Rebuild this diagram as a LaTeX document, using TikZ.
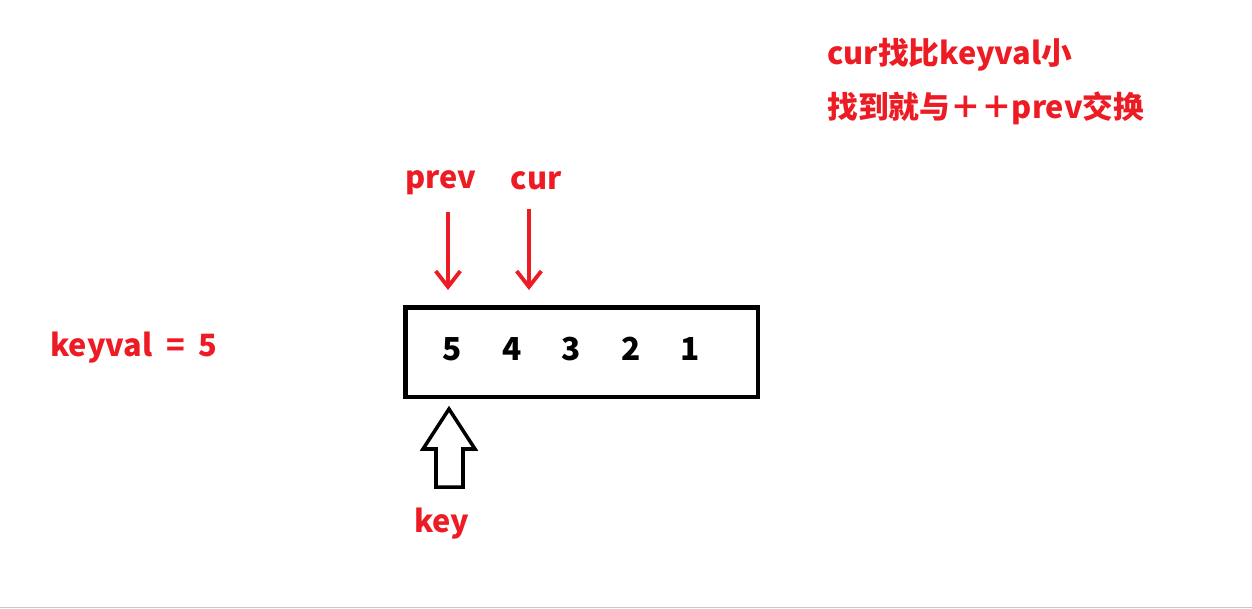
\documentclass[tikz,border=0pt]{standalone}
\usepackage{fontspec}
\setmainfont{Noto Sans CJK SC}
\usetikzlibrary{arrows.meta}
\definecolor{paintred}{RGB}{237,28,36}
\tikzset{
  redlabel/.style={text=paintred, font=\fontsize{17.5}{20}\selectfont\bfseries, inner sep=0pt},
  digit/.style={font=\fontsize{18}{20}\selectfont\bfseries, inner sep=0pt},
  pointer/.style={draw=paintred, line width=2.2pt, -{Straight Barb[length=9pt,width=14pt]}}
}
\begin{document}
\begin{tikzpicture}[x=0.02cm,y=-0.02cm]
      \useasboundingbox (0,0) rectangle (1252,609);
      \draw[gray!45, line width=0.6pt] (0,607.5) -- (1252,607.5);
      % array
      \draw[line width=2.8pt] (405.5,307.5) rectangle (758,397);
      \node[digit] (d5) at (452,349) {5};
      \node[digit] (d4) at (512,349) {4};
      \node[digit] (d3) at (571,349) {3};
      \node[digit] (d2) at (631,349) {2};
      \node[digit] (d1) at (690,349) {1};
      % labels
      \node[redlabel] (keyval) at (134,348) {keyval\hspace{0.45em}=\hspace{0.45em}5};
      \node[redlabel] (prev) at (441,183) {prev};
      \node[redlabel] (cur) at (536,181) {cur};
      \node[redlabel] (key) at (442,524) {key};
      \node[redlabel, anchor=west] (rule1) at (827,55) {cur找比keyval小};
      \node[redlabel, anchor=west] (rule2) at (827,108) {找到就与＋＋prev交换};
      % pointers
      \coordinate (prevtop) at (448,212);
      \coordinate (prevtip) at (448,290);
      \coordinate (curtop) at (529,209);
      \coordinate (curtip) at (529,290);
      \draw[pointer] (prevtop) -- (prevtip);
      \draw[pointer] (curtop) -- (curtip);
      % key arrow
      \draw[line width=2pt, line join=miter] (449,409) -- (475,449) -- (463,449) -- (463,487)
        -- (436,487) -- (436,449) -- (423,449) -- cycle;
\end{tikzpicture}
\end{document}
